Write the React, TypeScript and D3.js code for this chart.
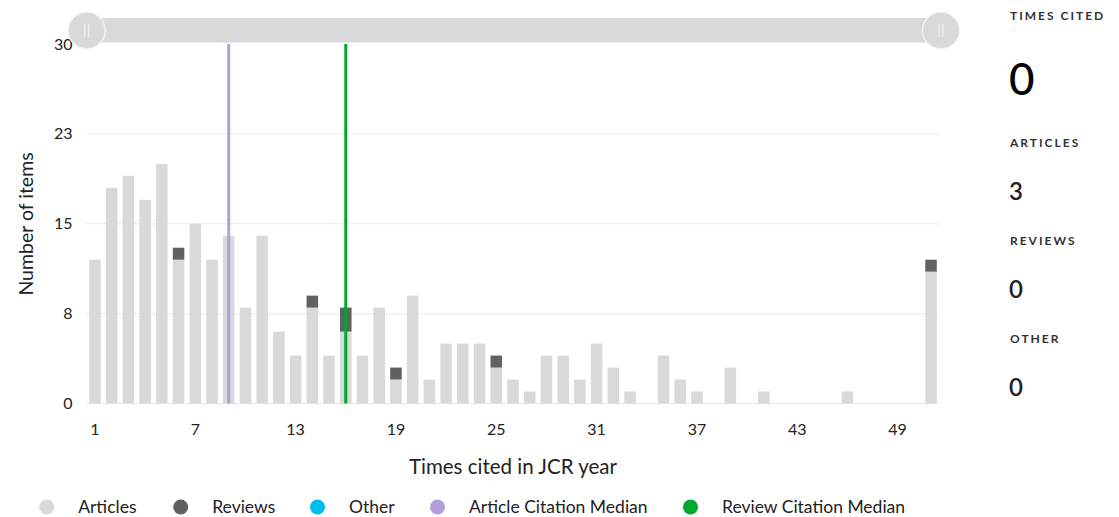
import React from "react";
import * as d3 from "d3";

const categories = [1,2,3,4,5,6,7,8,9,10,11,12,13,14,15,16,17,18,19,20,21,22,23,24,25,26,27,28,29,30,31,32,33,34,35,36,37,38,39,40,41,42,43,44,45,46,47,48,49,50,51];
const articles = [12,18,19,17,20,12,15,12,14,8,14,6,4,8,4,6,4,8,2,9,2,5,5,5,3,2,1,4,4,2,5,3,1,0,4,2,1,0,3,0,1,0,0,0,0,1,0,0,0,0,11];
const reviews = [0,0,0,0,0,1,0,0,0,0,0,0,0,1,0,2,0,0,1,0,0,0,0,0,1,0,0,0,0,0,0,0,0,0,0,0,0,0,0,0,0,0,0,0,0,0,0,0,0,0,1];
const other = categories.map(() => 0);
const xTickLabels = [1,7,13,19,25,31,37,43,49];
const yTicks = [0, 7.5, 15, 22.5, 30];
const articleMedian = 9;
const reviewMedian = 16;
const sidePanel = [
  { label: "TIMES CITED", value: "0" },
  { label: "ARTICLES", value: "3" },
  { label: "REVIEWS", value: "0" },
  { label: "OTHER", value: "0" },
];
const legendItems = [
  { name: "Articles", color: "#d9d9d9" },
  { name: "Reviews", color: "#616161" },
  { name: "Other", color: "#00bdf0" },
  { name: "Article Citation Median", color: "#b39ddb" },
  { name: "Review Citation Median", color: "#00a82d" },
];

const FONT = "Lato, 'Open Sans', sans-serif";

export default function App() {
  const W = 1119, H = 517;
  const x = d3.scaleBand<number>().domain(categories).range([86.6, 939.4]).paddingInner(0.31).paddingOuter(0.155);
  const y = d3.scaleLinear().domain([0, 30]).range([403.5, 44]);
  const stack = d3.stack<number>().keys(["a", "r", "o"]).value((i, k) => (k === "a" ? articles[i] : k === "r" ? reviews[i] : other[i]));
  const series = stack(categories.map((_, i) => i));
  const colors = ["#d9d9d9", "#616161", "#00bdf0"];
  const center = (c: number) => (x(c) as number) + x.bandwidth() / 2;
  const legendX = [46.7, 180.7, 317.5, 437.5, 690.5];
  const panelLabelY = [20, 146.5, 245, 343];
  const panelValueY = [95, 200, 298, 396];

  return (
    <svg width={W} height={H} style={{ position: "absolute", left: 0, top: 0, background: "#fff" }} fontFamily={FONT}>
      {yTicks.slice(1, 4).map((t) => (
        <line key={t} x1={86} x2={940} y1={y(t)} y2={y(t)} stroke="#f0f0f0" strokeWidth={1.3} />
      ))}
      <line x1={86} x2={940} y1={y(0)} y2={y(0)} stroke="#e8e8e8" strokeWidth={1} />
      {series.map((s, si) => (
        <g key={si} fill={colors[si]}>
          {s.map((d, i) => d[1] - d[0] > 0 ? (
            <rect key={i} x={x(categories[i])} width={x.bandwidth()} y={y(d[1])} height={y(d[0]) - y(d[1])} />
          ) : null)}
        </g>
      ))}
      <line x1={center(articleMedian)} x2={center(articleMedian)} y1={y(30)} y2={y(0)} stroke="#b39ddb" strokeWidth={3} />
      <line x1={center(reviewMedian)} x2={center(reviewMedian)} y1={y(30)} y2={y(0)} stroke="#00a82d" strokeWidth={3} />
      {yTicks.map((t) => (
        <text key={t} x={72.5} y={y(t)} dy="0.35em" textAnchor="end" fontSize={16} fill="#222">{Math.round(t)}</text>
      ))}
      {xTickLabels.map((t) => (
        <text key={t} x={center(t)} y={435} textAnchor="middle" fontSize={16} fill="#222">{t}</text>
      ))}
      <text transform="translate(33,224) rotate(-90)" textAnchor="middle" fontSize={19.5} fill="#222">Number of items</text>
      <text x={513} y={474} textAnchor="middle" fontSize={20.5} fill="#222">Times cited in JCR year</text>
      {/* slider */}
      <rect x={86.7} y={18} width={941 - 86.7} height={24.5} fill="#d9d9d9" />
      {[86.7, 941].map((cx) => (
        <g key={cx}>
          <circle cx={cx} cy={30.5} r={18.5} fill="#d9d9d9" stroke="#f4f4f4" strokeWidth={1.5} />
          <line x1={cx - 2} x2={cx - 2} y1={24} y2={37} stroke="#efefef" strokeWidth={1.3} />
          <line x1={cx + 2} x2={cx + 2} y1={24} y2={37} stroke="#efefef" strokeWidth={1.3} />
        </g>
      ))}
      {/* side panel */}
      {sidePanel.map((p, i) => (
        <g key={p.label}>
          <text x={1010} y={panelLabelY[i]} fontSize={12} fontWeight={700} letterSpacing={2.0} fill="#333">{p.label}</text>
          <text x={1009} y={panelValueY[i]} fontSize={i === 0 ? 44 : 24} fontWeight={i === 0 ? 500 : 600} fill={i === 0 ? "#000" : "#222"}>{p.value}</text>
        </g>
      ))}
      {/* legend */}
      {legendItems.map((l, i) => (
        <g key={l.name}>
          <circle cx={legendX[i]} cy={507} r={7.5} fill={l.color} />
          <text x={legendX[i] + 31.5} y={507} dy="0.35em" fontSize={17.5} fill="#222">{l.name}</text>
        </g>
      ))}
    </svg>
  );
}
